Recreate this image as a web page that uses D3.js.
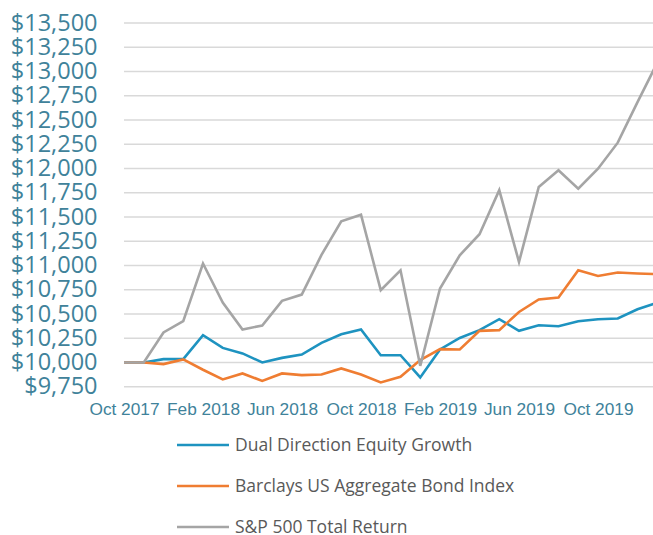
<!DOCTYPE html>
<html><head><meta charset="utf-8">
<script src="https://cdn.jsdelivr.net/npm/d3@7"></script>
<style>body{margin:0;background:#fff}svg{display:block}</style>
</head><body>
<svg id="c" width="653" height="535"></svg>
<script>
const months = ["Oct 2017","Nov 2017","Dec 2017","Jan 2018","Feb 2018","Mar 2018","Apr 2018","May 2018","Jun 2018","Jul 2018","Aug 2018","Sep 2018","Oct 2018","Nov 2018","Dec 2018","Jan 2019","Feb 2019","Mar 2019","Apr 2019","May 2019","Jun 2019","Jul 2019","Aug 2019","Sep 2019","Oct 2019","Nov 2019","Dec 2019","Jan 2020"];
const tickLabels = ["Oct 2017","Feb 2018","Jun 2018","Oct 2018","Feb 2019","Jun 2019","Oct 2019"];
const yTicks = [9750,10000,10250,10500,10750,11000,11250,11500,11750,12000,12250,12500,12750,13000,13250,13500];
const dualDirection = [10000,10000,10034,10034,10281,10150,10093,10000,10047,10082,10202,10291,10340,10075,10075,9845,10134,10253,10333,10446,10326,10384,10374,10425,10446,10453,10549,10615];
const barclays = [10000,10000,9983,10031,9925,9825,9887,9810,9887,9869,9876,9938,9876,9794,9852,10024,10137,10134,10326,10333,10521,10649,10670,10951,10892,10927,10917,10910];
const sp500 = [10000,10000,10309,10425,11020,10618,10340,10381,10635,10700,11110,11455,11524,10745,10950,9965,10762,11105,11322,11776,11036,11809,11981,11792,11998,12266,12684,13090];
const seriesNames = ["Dual Direction Equity Growth","Barclays US Aggregate Bond Index","S&P 500 Total Return"];
const colors = ["#1e93c0","#ef7d32","#a5a5a5"];

const svg = d3.select("#c");
const x = d3.scaleLinear().domain([0, months.length - 1]).range([124, 657.25]);
const y = d3.scaleLinear().domain([9750, 13500]).range([386.7, 23]);

// gridlines
svg.append("g").selectAll("line").data(yTicks).join("line")
  .attr("x1", 124).attr("x2", 653)
  .attr("y1", d => y(d)).attr("y2", d => y(d))
  .attr("stroke", "#d9d9d9").attr("stroke-width", 1.5);

// y axis labels
const yAxis = d3.axisLeft(y).tickValues(yTicks).tickSize(0).tickPadding(0)
  .tickFormat(d => "$" + d3.format(",")(d));
const gy = svg.append("g").attr("transform", "translate(97.5,0)").call(yAxis);
gy.select(".domain").remove();
gy.selectAll("text").attr("fill", "#40829a").style("font-family", "'Open Sans'").style("font-size", "23.5px").attr("dy", "0.3em");

// x axis labels
const xAxis = d3.axisBottom(x).tickValues(tickLabels.map(t => months.indexOf(t)))
  .tickSize(0).tickPadding(0).tickFormat(i => months[i]);
const gx = svg.append("g").attr("transform", "translate(0,402.5)").call(xAxis);
gx.select(".domain").remove();
gx.selectAll("text").attr("fill", "#40829a").style("font-family", "'Liberation Sans', Arial").style("font-size", "17.3px").attr("dy", "0.71em");

// lines
const line = d3.line().x((d, i) => x(i)).y(d => y(d));
const allSeries = [dualDirection, barclays, sp500];
svg.append("g").selectAll("path").data(allSeries).join("path")
  .attr("d", d => line(d)).attr("fill", "none")
  .attr("stroke", (d, i) => colors[i]).attr("stroke-width", 2.6)
  .attr("stroke-linejoin", "miter");

// legend
const lg = svg.append("g").selectAll("g").data(seriesNames).join("g")
  .attr("transform", (d, i) => `translate(0,${445 + i * 41})`);
lg.append("line").attr("x1", 177).attr("x2", 229).attr("y1", 0).attr("y2", 0)
  .attr("stroke", (d, i) => colors[i]).attr("stroke-width", 2.6);
lg.append("text").attr("x", 235).attr("y", 0).attr("dy", "0.35em")
  .attr("fill", "#595959").style("font-family", "'Open Sans'").style("font-size", "17.5px")
  .text(d => d);
</script>
</body></html>
